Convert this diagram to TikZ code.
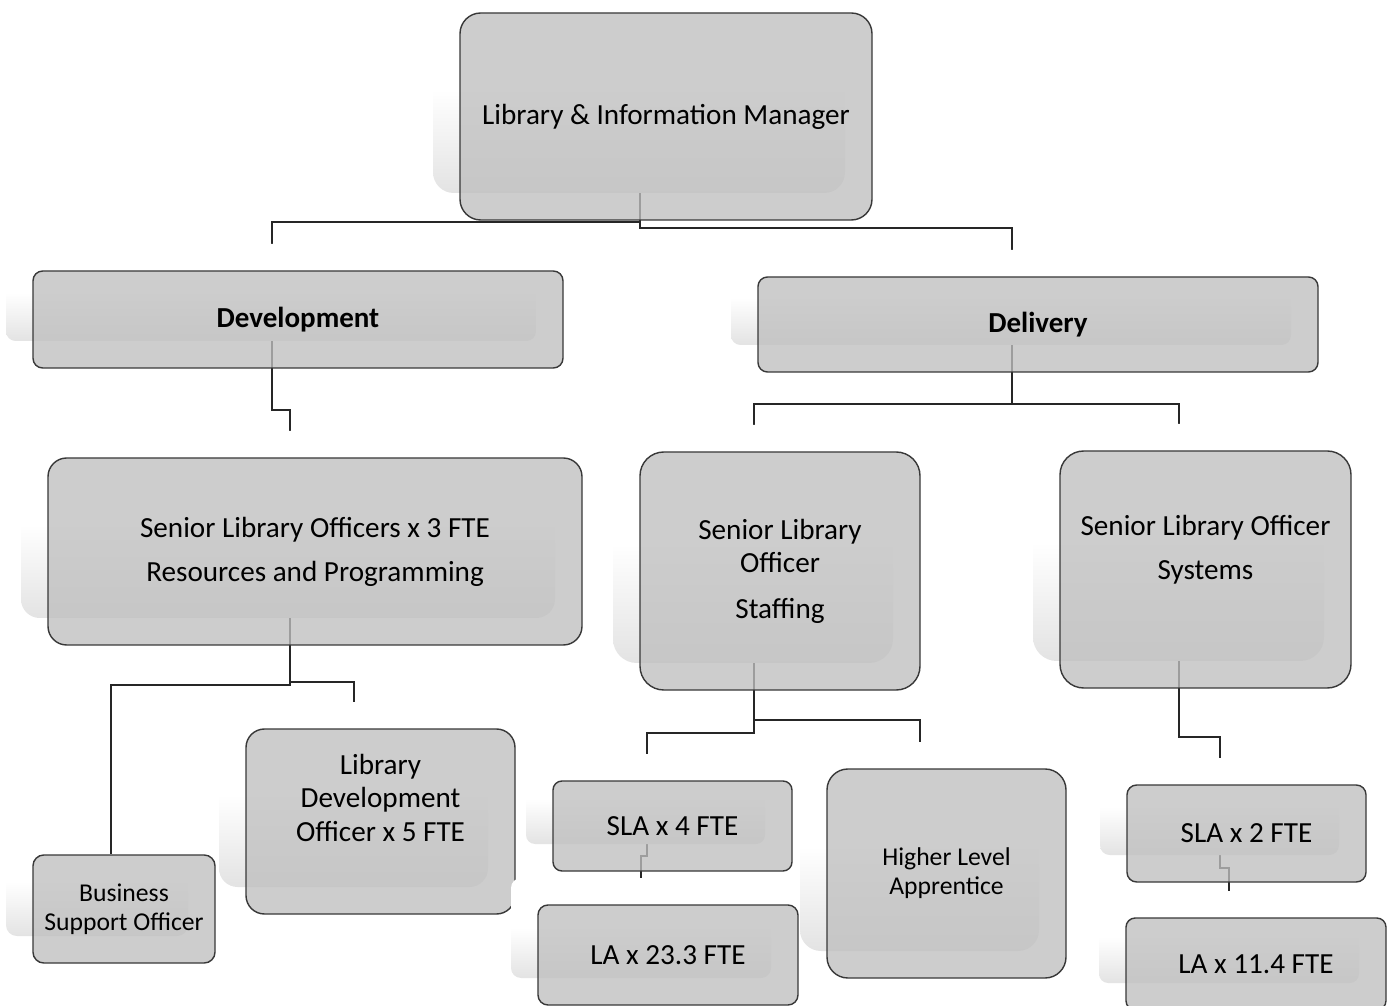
\documentclass[tikz,border=0pt]{standalone}
\usepackage{fontspec}
\setmainfont{Carlito}
\usetikzlibrary{backgrounds}
\pgfdeclareverticalshading{boxshade}{100bp}{color(0bp)=(black!11); color(25bp)=(black!11);
                                            color(50bp)=(white); color(100bp)=(white)}
\tikzset{box/.style={draw=black!78,line width=0.8pt,fill=black!25,fill opacity=0.78,
                     text opacity=1,align=center,inner sep=0pt,
                     font=\fontsize{16.6}{19}\selectfont}}
\tikzset{headbox/.style={box,font=\fontsize{16.5}{19}\selectfont\bfseries}}
\tikzset{smallbox/.style={box,font=\fontsize{14.6}{16.5}\selectfont}}
\tikzset{boxshadow/.style={shading=boxshade}}
\tikzset{link/.style={draw=black!85,line width=0.8pt}}
% name, left, top, right, bottom, text (pixel units)
\newcommand{\orgbox}[7][box]{%
  \pgfmathsetmacro{\rr}{0.1*min(#5-#3,#6-#4)*0.02}%
  \shade[boxshadow,rounded corners=\rr cm] (#3-27,#4-27) rectangle (#5-27,#6-27);
  \node[#1,rounded corners=\rr cm,minimum width={(#5-#3)*0.02cm},
        minimum height={(#6-#4)*0.02cm}] (#2) at ({(#3+#5)/2},{(#4+#6)/2}) {#7};}

\begin{document}
\begin{tikzpicture}[x=0.02cm,y=-0.02cm]
        \useasboundingbox (0,0) rectangle (1390,1006);
        % boxes
        \orgbox{top}{460}{13}{872}{220}{Library \& Information Manager}
        \orgbox[headbox]{dev}{33}{271}{563}{368}{Development}
        \orgbox[headbox]{del}{758}{277}{1318}{372}{Delivery}
        \orgbox{slo3}{48}{458}{582}{645}{Senior Library Officers x 3 FTE\\[6pt]Resources and Programming}
        \orgbox{staff}{640}{452}{920}{690}{Senior Library\\Officer\\[7pt]Staffing}
        \orgbox{sys}{1060}{451}{1351}{688}{Senior Library Officer\\[6pt]Systems\\[6pt]\mbox{}}
        \orgbox{ldo}{246}{729}{515}{914}{Library\\Development\\Officer x 5 FTE\\[8pt]\mbox{}}
        \orgbox{sla4}{553}{781}{792}{871}{SLA x 4 FTE}
        \orgbox{la23}{538}{905}{798}{1005}{LA x 23.3 FTE}
        \orgbox[smallbox]{hla}{827}{769}{1066}{978}{Higher Level\\Apprentice}
        \orgbox{sla2}{1127}{785}{1366}{882}{SLA x 2 FTE}
        \orgbox{la11}{1126}{918}{1386}{1010}{LA x 11.4 FTE}
        \begin{pgfonlayer}{background}
        \orgbox[smallbox]{bso}{33}{855}{215}{963}{Business\\Support Officer}
        % connectors
        \coordinate (k0) at (640,0);
        \coordinate (k1) at (272,222);
        \coordinate (k2) at (1012,228);
        \coordinate (k3) at (290,410);
        \coordinate (k4) at (754,404);
        \coordinate (k5) at (1179,404);
        \coordinate (k6) at (111,685);
        \coordinate (k7) at (354,682);
        \coordinate (k8) at (647,733);
        \coordinate (k9) at (920,720);
        \coordinate (k10) at (1220,737);
        \coordinate (k11) at (641,856);
        \coordinate (k12) at (1229,868);
        \draw[link] (top.center -| k0) |- (k1) -- (dev.north -| k1);
        \draw[link] (top.center -| k0) |- (k2) -- (del.north -| k2);
        \draw[link] (dev.center -| k1) |- (k3) -- (slo3.north -| k3);
        \draw[link] (del.center -| k2) |- (k4) -- (staff.north -| k4);
        \draw[link] (del.center -| k2) |- (k5) -- (sys.north -| k5);
        \draw[link] (slo3.center -| k3) |- (k6) -- (bso.north -| k6);
        \draw[link] (slo3.center -| k3) |- (k7) -- (ldo.north -| k7);
        \draw[link] (staff.center -| k4) |- (k8) -- (sla4.north -| k8);
        \draw[link] (staff.center -| k4) |- (k9) -- (hla.north -| k9);
        \draw[link] (sys.center -| k5) |- (k10) -- (sla2.north -| k10);
        \draw[link] (sla4.center -| k8) |- (k11) -- (la23.north -| k11);
        \draw[link] (sla2.center -| k10) |- (k12) -- (la11.north -| k12);
        \end{pgfonlayer}
\end{tikzpicture}
\end{document}
